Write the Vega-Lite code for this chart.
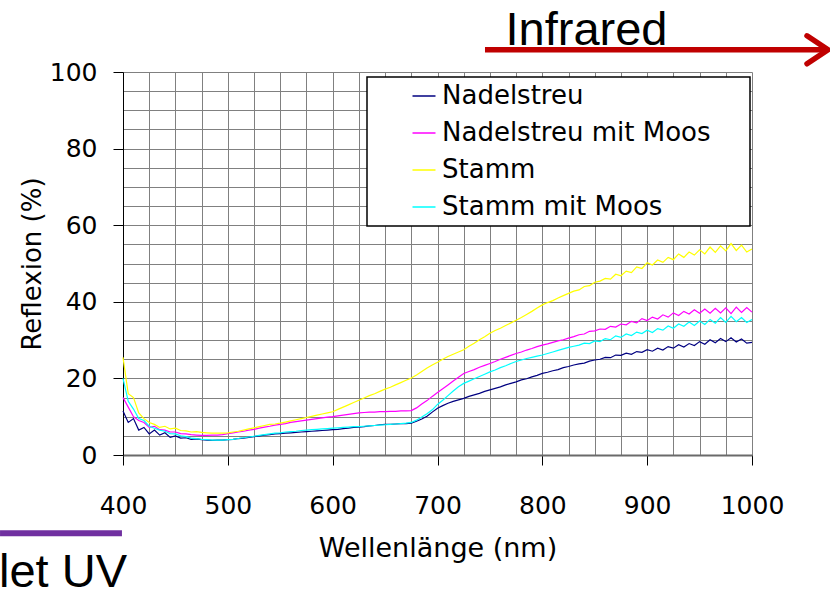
{
  "$schema": "https://vega.github.io/schema/vega-lite/v6.json",
  "width": 629,
  "height": 383,
  "autosize": {"type": "none"},
  "padding": {"left": 123, "top": 72, "right": 78, "bottom": 138},
  "background": "white",
  "config": {
    "view": {"stroke": null},
    "legend": {
      "orient": "none", "legendX": 244, "legendY": 5,
      "fillColor": "white", "strokeColor": "black", "strokeWidth": 1.5,
      "padding": 6, "symbolType": "stroke", "symbolSize": 529, "symbolStrokeWidth": 1.5,
      "symbolOffset": 38, "labelOffset": 5, "labelFont": "DejaVu Sans", "labelFontSize": 26,
      "labelColor": "black", "rowPadding": 11, "labelLimit": 500,
      "titleOrient": "right", "titlePadding": 33, "titleFontSize": 26, "titleFont": "DejaVu Sans"
    }
  },
  "datasets": {
    "spectra": [
      {"w":400,"s":"Nadelstreu","r":11.5},{"w":405,"s":"Nadelstreu","r":8.5},{"w":410,"s":"Nadelstreu","r":9.5},{"w":415,"s":"Nadelstreu","r":6.5},{"w":420,"s":"Nadelstreu","r":7.2},{"w":425,"s":"Nadelstreu","r":5.5},{"w":430,"s":"Nadelstreu","r":6.5},{"w":435,"s":"Nadelstreu","r":5.2},{"w":440,"s":"Nadelstreu","r":5.8},{"w":445,"s":"Nadelstreu","r":4.6},{"w":450,"s":"Nadelstreu","r":5.0},{"w":455,"s":"Nadelstreu","r":4.4},{"w":460,"s":"Nadelstreu","r":4.5},{"w":465,"s":"Nadelstreu","r":4.1},{"w":470,"s":"Nadelstreu","r":4.2},{"w":475,"s":"Nadelstreu","r":4.0},{"w":480,"s":"Nadelstreu","r":3.9},{"w":485,"s":"Nadelstreu","r":3.8},{"w":490,"s":"Nadelstreu","r":3.9},{"w":495,"s":"Nadelstreu","r":3.9},{"w":500,"s":"Nadelstreu","r":4.0},{"w":505,"s":"Nadelstreu","r":4.1},{"w":510,"s":"Nadelstreu","r":4.3},{"w":515,"s":"Nadelstreu","r":4.4},{"w":520,"s":"Nadelstreu","r":4.6},{"w":525,"s":"Nadelstreu","r":4.8},{"w":530,"s":"Nadelstreu","r":5.0},{"w":535,"s":"Nadelstreu","r":5.2},{"w":540,"s":"Nadelstreu","r":5.3},{"w":545,"s":"Nadelstreu","r":5.5},{"w":550,"s":"Nadelstreu","r":5.6},{"w":555,"s":"Nadelstreu","r":5.7},{"w":560,"s":"Nadelstreu","r":5.8},{"w":565,"s":"Nadelstreu","r":5.9},{"w":570,"s":"Nadelstreu","r":6.0},{"w":575,"s":"Nadelstreu","r":6.1},{"w":580,"s":"Nadelstreu","r":6.2},{"w":585,"s":"Nadelstreu","r":6.3},{"w":590,"s":"Nadelstreu","r":6.4},{"w":595,"s":"Nadelstreu","r":6.5},{"w":600,"s":"Nadelstreu","r":6.6},{"w":605,"s":"Nadelstreu","r":6.7},{"w":610,"s":"Nadelstreu","r":6.9},{"w":615,"s":"Nadelstreu","r":7.0},{"w":620,"s":"Nadelstreu","r":7.2},{"w":625,"s":"Nadelstreu","r":7.3},{"w":630,"s":"Nadelstreu","r":7.4},{"w":635,"s":"Nadelstreu","r":7.6},{"w":640,"s":"Nadelstreu","r":7.7},{"w":645,"s":"Nadelstreu","r":7.9},{"w":650,"s":"Nadelstreu","r":8.0},{"w":655,"s":"Nadelstreu","r":8.0},{"w":660,"s":"Nadelstreu","r":8.1},{"w":665,"s":"Nadelstreu","r":8.2},{"w":670,"s":"Nadelstreu","r":8.2},{"w":675,"s":"Nadelstreu","r":8.3},{"w":680,"s":"Nadelstreu","r":8.8},{"w":685,"s":"Nadelstreu","r":9.4},{"w":690,"s":"Nadelstreu","r":10.1},{"w":695,"s":"Nadelstreu","r":11.2},{"w":700,"s":"Nadelstreu","r":12.2},{"w":705,"s":"Nadelstreu","r":12.9},{"w":710,"s":"Nadelstreu","r":13.5},{"w":715,"s":"Nadelstreu","r":14.0},{"w":720,"s":"Nadelstreu","r":14.4},{"w":725,"s":"Nadelstreu","r":14.8},{"w":730,"s":"Nadelstreu","r":15.3},{"w":735,"s":"Nadelstreu","r":15.7},{"w":740,"s":"Nadelstreu","r":16.1},{"w":745,"s":"Nadelstreu","r":16.6},{"w":750,"s":"Nadelstreu","r":17.0},{"w":755,"s":"Nadelstreu","r":17.4},{"w":760,"s":"Nadelstreu","r":17.8},{"w":765,"s":"Nadelstreu","r":18.3},{"w":770,"s":"Nadelstreu","r":18.7},{"w":775,"s":"Nadelstreu","r":19.1},{"w":780,"s":"Nadelstreu","r":19.6},{"w":785,"s":"Nadelstreu","r":19.9},{"w":790,"s":"Nadelstreu","r":20.4},{"w":795,"s":"Nadelstreu","r":20.8},{"w":800,"s":"Nadelstreu","r":21.3},{"w":805,"s":"Nadelstreu","r":21.6},{"w":810,"s":"Nadelstreu","r":22.0},{"w":815,"s":"Nadelstreu","r":22.3},{"w":820,"s":"Nadelstreu","r":22.8},{"w":825,"s":"Nadelstreu","r":23.1},{"w":830,"s":"Nadelstreu","r":23.5},{"w":835,"s":"Nadelstreu","r":23.8},{"w":840,"s":"Nadelstreu","r":24.0},{"w":845,"s":"Nadelstreu","r":24.5},{"w":850,"s":"Nadelstreu","r":24.8},{"w":855,"s":"Nadelstreu","r":25.0},{"w":860,"s":"Nadelstreu","r":25.5},{"w":865,"s":"Nadelstreu","r":25.4},{"w":870,"s":"Nadelstreu","r":26.1},{"w":875,"s":"Nadelstreu","r":26.0},{"w":880,"s":"Nadelstreu","r":26.6},{"w":885,"s":"Nadelstreu","r":26.3},{"w":890,"s":"Nadelstreu","r":27.0},{"w":895,"s":"Nadelstreu","r":26.8},{"w":900,"s":"Nadelstreu","r":27.5},{"w":905,"s":"Nadelstreu","r":27.1},{"w":910,"s":"Nadelstreu","r":27.9},{"w":915,"s":"Nadelstreu","r":27.4},{"w":920,"s":"Nadelstreu","r":28.3},{"w":925,"s":"Nadelstreu","r":27.9},{"w":930,"s":"Nadelstreu","r":28.8},{"w":935,"s":"Nadelstreu","r":28.2},{"w":940,"s":"Nadelstreu","r":29.1},{"w":945,"s":"Nadelstreu","r":28.6},{"w":950,"s":"Nadelstreu","r":29.6},{"w":955,"s":"Nadelstreu","r":28.9},{"w":960,"s":"Nadelstreu","r":30.1},{"w":965,"s":"Nadelstreu","r":29.3},{"w":970,"s":"Nadelstreu","r":30.4},{"w":975,"s":"Nadelstreu","r":29.6},{"w":980,"s":"Nadelstreu","r":30.6},{"w":985,"s":"Nadelstreu","r":29.5},{"w":990,"s":"Nadelstreu","r":30.3},{"w":995,"s":"Nadelstreu","r":29.2},{"w":1000,"s":"Nadelstreu","r":29.4},

      {"w":400,"s":"Nadelstreu mit Moos","r":15.0},{"w":405,"s":"Nadelstreu mit Moos","r":12.5},{"w":410,"s":"Nadelstreu mit Moos","r":10.0},{"w":415,"s":"Nadelstreu mit Moos","r":9.0},{"w":420,"s":"Nadelstreu mit Moos","r":8.5},{"w":425,"s":"Nadelstreu mit Moos","r":7.2},{"w":430,"s":"Nadelstreu mit Moos","r":7.5},{"w":435,"s":"Nadelstreu mit Moos","r":6.6},{"w":440,"s":"Nadelstreu mit Moos","r":6.5},{"w":445,"s":"Nadelstreu mit Moos","r":6.0},{"w":450,"s":"Nadelstreu mit Moos","r":6.0},{"w":455,"s":"Nadelstreu mit Moos","r":5.6},{"w":460,"s":"Nadelstreu mit Moos","r":5.5},{"w":465,"s":"Nadelstreu mit Moos","r":5.3},{"w":470,"s":"Nadelstreu mit Moos","r":5.2},{"w":475,"s":"Nadelstreu mit Moos","r":5.1},{"w":480,"s":"Nadelstreu mit Moos","r":5.1},{"w":485,"s":"Nadelstreu mit Moos","r":5.2},{"w":490,"s":"Nadelstreu mit Moos","r":5.2},{"w":495,"s":"Nadelstreu mit Moos","r":5.3},{"w":500,"s":"Nadelstreu mit Moos","r":5.6},{"w":505,"s":"Nadelstreu mit Moos","r":5.8},{"w":510,"s":"Nadelstreu mit Moos","r":6.0},{"w":515,"s":"Nadelstreu mit Moos","r":6.2},{"w":520,"s":"Nadelstreu mit Moos","r":6.5},{"w":525,"s":"Nadelstreu mit Moos","r":6.7},{"w":530,"s":"Nadelstreu mit Moos","r":7.0},{"w":535,"s":"Nadelstreu mit Moos","r":7.3},{"w":540,"s":"Nadelstreu mit Moos","r":7.5},{"w":545,"s":"Nadelstreu mit Moos","r":7.8},{"w":550,"s":"Nadelstreu mit Moos","r":8.0},{"w":555,"s":"Nadelstreu mit Moos","r":8.2},{"w":560,"s":"Nadelstreu mit Moos","r":8.5},{"w":565,"s":"Nadelstreu mit Moos","r":8.7},{"w":570,"s":"Nadelstreu mit Moos","r":8.9},{"w":575,"s":"Nadelstreu mit Moos","r":9.1},{"w":580,"s":"Nadelstreu mit Moos","r":9.3},{"w":585,"s":"Nadelstreu mit Moos","r":9.5},{"w":590,"s":"Nadelstreu mit Moos","r":9.7},{"w":595,"s":"Nadelstreu mit Moos","r":9.9},{"w":600,"s":"Nadelstreu mit Moos","r":10.0},{"w":605,"s":"Nadelstreu mit Moos","r":10.2},{"w":610,"s":"Nadelstreu mit Moos","r":10.4},{"w":615,"s":"Nadelstreu mit Moos","r":10.6},{"w":620,"s":"Nadelstreu mit Moos","r":10.8},{"w":625,"s":"Nadelstreu mit Moos","r":11.0},{"w":630,"s":"Nadelstreu mit Moos","r":11.1},{"w":635,"s":"Nadelstreu mit Moos","r":11.2},{"w":640,"s":"Nadelstreu mit Moos","r":11.2},{"w":645,"s":"Nadelstreu mit Moos","r":11.3},{"w":650,"s":"Nadelstreu mit Moos","r":11.3},{"w":655,"s":"Nadelstreu mit Moos","r":11.4},{"w":660,"s":"Nadelstreu mit Moos","r":11.4},{"w":665,"s":"Nadelstreu mit Moos","r":11.5},{"w":670,"s":"Nadelstreu mit Moos","r":11.5},{"w":675,"s":"Nadelstreu mit Moos","r":11.6},{"w":680,"s":"Nadelstreu mit Moos","r":12.3},{"w":685,"s":"Nadelstreu mit Moos","r":13.3},{"w":690,"s":"Nadelstreu mit Moos","r":14.2},{"w":695,"s":"Nadelstreu mit Moos","r":15.3},{"w":700,"s":"Nadelstreu mit Moos","r":16.3},{"w":705,"s":"Nadelstreu mit Moos","r":17.3},{"w":710,"s":"Nadelstreu mit Moos","r":18.3},{"w":715,"s":"Nadelstreu mit Moos","r":19.3},{"w":720,"s":"Nadelstreu mit Moos","r":20.3},{"w":725,"s":"Nadelstreu mit Moos","r":21.3},{"w":730,"s":"Nadelstreu mit Moos","r":21.8},{"w":735,"s":"Nadelstreu mit Moos","r":22.3},{"w":740,"s":"Nadelstreu mit Moos","r":22.9},{"w":745,"s":"Nadelstreu mit Moos","r":23.4},{"w":750,"s":"Nadelstreu mit Moos","r":23.9},{"w":755,"s":"Nadelstreu mit Moos","r":24.4},{"w":760,"s":"Nadelstreu mit Moos","r":25.0},{"w":765,"s":"Nadelstreu mit Moos","r":25.5},{"w":770,"s":"Nadelstreu mit Moos","r":26.0},{"w":775,"s":"Nadelstreu mit Moos","r":26.5},{"w":780,"s":"Nadelstreu mit Moos","r":26.9},{"w":785,"s":"Nadelstreu mit Moos","r":27.4},{"w":790,"s":"Nadelstreu mit Moos","r":27.8},{"w":795,"s":"Nadelstreu mit Moos","r":28.3},{"w":800,"s":"Nadelstreu mit Moos","r":28.7},{"w":805,"s":"Nadelstreu mit Moos","r":29.0},{"w":810,"s":"Nadelstreu mit Moos","r":29.4},{"w":815,"s":"Nadelstreu mit Moos","r":29.8},{"w":820,"s":"Nadelstreu mit Moos","r":30.1},{"w":825,"s":"Nadelstreu mit Moos","r":30.5},{"w":830,"s":"Nadelstreu mit Moos","r":30.9},{"w":835,"s":"Nadelstreu mit Moos","r":31.4},{"w":840,"s":"Nadelstreu mit Moos","r":31.6},{"w":845,"s":"Nadelstreu mit Moos","r":32.3},{"w":850,"s":"Nadelstreu mit Moos","r":32.4},{"w":855,"s":"Nadelstreu mit Moos","r":32.9},{"w":860,"s":"Nadelstreu mit Moos","r":32.8},{"w":865,"s":"Nadelstreu mit Moos","r":33.6},{"w":870,"s":"Nadelstreu mit Moos","r":33.4},{"w":875,"s":"Nadelstreu mit Moos","r":34.2},{"w":880,"s":"Nadelstreu mit Moos","r":34.0},{"w":885,"s":"Nadelstreu mit Moos","r":34.9},{"w":890,"s":"Nadelstreu mit Moos","r":34.5},{"w":895,"s":"Nadelstreu mit Moos","r":35.6},{"w":900,"s":"Nadelstreu mit Moos","r":35.1},{"w":905,"s":"Nadelstreu mit Moos","r":36.0},{"w":910,"s":"Nadelstreu mit Moos","r":35.5},{"w":915,"s":"Nadelstreu mit Moos","r":36.6},{"w":920,"s":"Nadelstreu mit Moos","r":36.0},{"w":925,"s":"Nadelstreu mit Moos","r":37.1},{"w":930,"s":"Nadelstreu mit Moos","r":36.4},{"w":935,"s":"Nadelstreu mit Moos","r":37.5},{"w":940,"s":"Nadelstreu mit Moos","r":36.8},{"w":945,"s":"Nadelstreu mit Moos","r":37.9},{"w":950,"s":"Nadelstreu mit Moos","r":37.0},{"w":955,"s":"Nadelstreu mit Moos","r":38.1},{"w":960,"s":"Nadelstreu mit Moos","r":37.0},{"w":965,"s":"Nadelstreu mit Moos","r":38.3},{"w":970,"s":"Nadelstreu mit Moos","r":37.1},{"w":975,"s":"Nadelstreu mit Moos","r":38.4},{"w":980,"s":"Nadelstreu mit Moos","r":36.9},{"w":985,"s":"Nadelstreu mit Moos","r":38.6},{"w":990,"s":"Nadelstreu mit Moos","r":37.2},{"w":995,"s":"Nadelstreu mit Moos","r":38.5},{"w":1000,"s":"Nadelstreu mit Moos","r":37.3},

      {"w":400,"s":"Stamm","r":25.5},{"w":405,"s":"Stamm","r":16.0},{"w":410,"s":"Stamm","r":15.0},{"w":415,"s":"Stamm","r":11.0},{"w":420,"s":"Stamm","r":9.5},{"w":425,"s":"Stamm","r":8.5},{"w":430,"s":"Stamm","r":8.0},{"w":435,"s":"Stamm","r":7.2},{"w":440,"s":"Stamm","r":7.5},{"w":445,"s":"Stamm","r":6.8},{"w":450,"s":"Stamm","r":7.0},{"w":455,"s":"Stamm","r":6.4},{"w":460,"s":"Stamm","r":6.3},{"w":465,"s":"Stamm","r":6.0},{"w":470,"s":"Stamm","r":6.1},{"w":475,"s":"Stamm","r":5.9},{"w":480,"s":"Stamm","r":5.8},{"w":485,"s":"Stamm","r":5.7},{"w":490,"s":"Stamm","r":5.7},{"w":495,"s":"Stamm","r":5.7},{"w":500,"s":"Stamm","r":5.8},{"w":505,"s":"Stamm","r":6.0},{"w":510,"s":"Stamm","r":6.2},{"w":515,"s":"Stamm","r":6.5},{"w":520,"s":"Stamm","r":6.8},{"w":525,"s":"Stamm","r":7.1},{"w":530,"s":"Stamm","r":7.4},{"w":535,"s":"Stamm","r":7.7},{"w":540,"s":"Stamm","r":8.0},{"w":545,"s":"Stamm","r":8.1},{"w":550,"s":"Stamm","r":8.3},{"w":555,"s":"Stamm","r":8.6},{"w":560,"s":"Stamm","r":8.9},{"w":565,"s":"Stamm","r":9.2},{"w":570,"s":"Stamm","r":9.5},{"w":575,"s":"Stamm","r":9.8},{"w":580,"s":"Stamm","r":10.1},{"w":585,"s":"Stamm","r":10.4},{"w":590,"s":"Stamm","r":10.7},{"w":595,"s":"Stamm","r":11.0},{"w":600,"s":"Stamm","r":11.3},{"w":605,"s":"Stamm","r":11.9},{"w":610,"s":"Stamm","r":12.5},{"w":615,"s":"Stamm","r":13.1},{"w":620,"s":"Stamm","r":13.7},{"w":625,"s":"Stamm","r":14.3},{"w":630,"s":"Stamm","r":14.9},{"w":635,"s":"Stamm","r":15.5},{"w":640,"s":"Stamm","r":16.0},{"w":645,"s":"Stamm","r":16.6},{"w":650,"s":"Stamm","r":17.2},{"w":655,"s":"Stamm","r":17.7},{"w":660,"s":"Stamm","r":18.3},{"w":665,"s":"Stamm","r":18.9},{"w":670,"s":"Stamm","r":19.5},{"w":675,"s":"Stamm","r":20.1},{"w":680,"s":"Stamm","r":20.9},{"w":685,"s":"Stamm","r":21.8},{"w":690,"s":"Stamm","r":22.7},{"w":695,"s":"Stamm","r":23.5},{"w":700,"s":"Stamm","r":24.2},{"w":705,"s":"Stamm","r":25.0},{"w":710,"s":"Stamm","r":25.7},{"w":715,"s":"Stamm","r":26.3},{"w":720,"s":"Stamm","r":26.9},{"w":725,"s":"Stamm","r":27.5},{"w":730,"s":"Stamm","r":28.4},{"w":735,"s":"Stamm","r":29.2},{"w":740,"s":"Stamm","r":30.1},{"w":745,"s":"Stamm","r":30.9},{"w":750,"s":"Stamm","r":31.8},{"w":755,"s":"Stamm","r":32.5},{"w":760,"s":"Stamm","r":33.1},{"w":765,"s":"Stamm","r":33.8},{"w":770,"s":"Stamm","r":34.5},{"w":775,"s":"Stamm","r":35.2},{"w":780,"s":"Stamm","r":35.9},{"w":785,"s":"Stamm","r":36.7},{"w":790,"s":"Stamm","r":37.5},{"w":795,"s":"Stamm","r":38.4},{"w":800,"s":"Stamm","r":39.2},{"w":805,"s":"Stamm","r":39.8},{"w":810,"s":"Stamm","r":40.3},{"w":815,"s":"Stamm","r":41.0},{"w":820,"s":"Stamm","r":41.6},{"w":825,"s":"Stamm","r":42.2},{"w":830,"s":"Stamm","r":42.8},{"w":835,"s":"Stamm","r":43.1},{"w":840,"s":"Stamm","r":44.0},{"w":845,"s":"Stamm","r":44.2},{"w":850,"s":"Stamm","r":45.1},{"w":855,"s":"Stamm","r":45.4},{"w":860,"s":"Stamm","r":46.1},{"w":865,"s":"Stamm","r":45.9},{"w":870,"s":"Stamm","r":47.2},{"w":875,"s":"Stamm","r":46.8},{"w":880,"s":"Stamm","r":48.0},{"w":885,"s":"Stamm","r":47.6},{"w":890,"s":"Stamm","r":49.1},{"w":895,"s":"Stamm","r":48.7},{"w":900,"s":"Stamm","r":50.2},{"w":905,"s":"Stamm","r":49.6},{"w":910,"s":"Stamm","r":50.9},{"w":915,"s":"Stamm","r":50.3},{"w":920,"s":"Stamm","r":51.6},{"w":925,"s":"Stamm","r":51.0},{"w":930,"s":"Stamm","r":52.5},{"w":935,"s":"Stamm","r":51.6},{"w":940,"s":"Stamm","r":53.0},{"w":945,"s":"Stamm","r":52.2},{"w":950,"s":"Stamm","r":53.6},{"w":955,"s":"Stamm","r":52.5},{"w":960,"s":"Stamm","r":54.3},{"w":965,"s":"Stamm","r":52.9},{"w":970,"s":"Stamm","r":54.6},{"w":975,"s":"Stamm","r":53.3},{"w":980,"s":"Stamm","r":55.2},{"w":985,"s":"Stamm","r":53.4},{"w":990,"s":"Stamm","r":54.8},{"w":995,"s":"Stamm","r":53.0},{"w":1000,"s":"Stamm","r":53.8},

      {"w":400,"s":"Stamm mit Moos","r":20.0},{"w":405,"s":"Stamm mit Moos","r":14.0},{"w":410,"s":"Stamm mit Moos","r":12.0},{"w":415,"s":"Stamm mit Moos","r":9.5},{"w":420,"s":"Stamm mit Moos","r":9.0},{"w":425,"s":"Stamm mit Moos","r":7.5},{"w":430,"s":"Stamm mit Moos","r":7.0},{"w":435,"s":"Stamm mit Moos","r":6.5},{"w":440,"s":"Stamm mit Moos","r":6.2},{"w":445,"s":"Stamm mit Moos","r":5.6},{"w":450,"s":"Stamm mit Moos","r":5.5},{"w":455,"s":"Stamm mit Moos","r":5.0},{"w":460,"s":"Stamm mit Moos","r":4.8},{"w":465,"s":"Stamm mit Moos","r":4.4},{"w":470,"s":"Stamm mit Moos","r":4.3},{"w":475,"s":"Stamm mit Moos","r":4.1},{"w":480,"s":"Stamm mit Moos","r":4.0},{"w":485,"s":"Stamm mit Moos","r":3.9},{"w":490,"s":"Stamm mit Moos","r":3.9},{"w":495,"s":"Stamm mit Moos","r":3.9},{"w":500,"s":"Stamm mit Moos","r":4.0},{"w":505,"s":"Stamm mit Moos","r":4.1},{"w":510,"s":"Stamm mit Moos","r":4.3},{"w":515,"s":"Stamm mit Moos","r":4.5},{"w":520,"s":"Stamm mit Moos","r":4.7},{"w":525,"s":"Stamm mit Moos","r":4.9},{"w":530,"s":"Stamm mit Moos","r":5.1},{"w":535,"s":"Stamm mit Moos","r":5.3},{"w":540,"s":"Stamm mit Moos","r":5.5},{"w":545,"s":"Stamm mit Moos","r":5.7},{"w":550,"s":"Stamm mit Moos","r":5.8},{"w":555,"s":"Stamm mit Moos","r":6.0},{"w":560,"s":"Stamm mit Moos","r":6.1},{"w":565,"s":"Stamm mit Moos","r":6.2},{"w":570,"s":"Stamm mit Moos","r":6.4},{"w":575,"s":"Stamm mit Moos","r":6.5},{"w":580,"s":"Stamm mit Moos","r":6.6},{"w":585,"s":"Stamm mit Moos","r":6.7},{"w":590,"s":"Stamm mit Moos","r":6.8},{"w":595,"s":"Stamm mit Moos","r":6.9},{"w":600,"s":"Stamm mit Moos","r":7.0},{"w":605,"s":"Stamm mit Moos","r":7.1},{"w":610,"s":"Stamm mit Moos","r":7.2},{"w":615,"s":"Stamm mit Moos","r":7.3},{"w":620,"s":"Stamm mit Moos","r":7.4},{"w":625,"s":"Stamm mit Moos","r":7.4},{"w":630,"s":"Stamm mit Moos","r":7.5},{"w":635,"s":"Stamm mit Moos","r":7.6},{"w":640,"s":"Stamm mit Moos","r":7.7},{"w":645,"s":"Stamm mit Moos","r":7.8},{"w":650,"s":"Stamm mit Moos","r":7.9},{"w":655,"s":"Stamm mit Moos","r":8.0},{"w":660,"s":"Stamm mit Moos","r":8.1},{"w":665,"s":"Stamm mit Moos","r":8.2},{"w":670,"s":"Stamm mit Moos","r":8.3},{"w":675,"s":"Stamm mit Moos","r":8.5},{"w":680,"s":"Stamm mit Moos","r":9.1},{"w":685,"s":"Stamm mit Moos","r":9.9},{"w":690,"s":"Stamm mit Moos","r":10.8},{"w":695,"s":"Stamm mit Moos","r":11.8},{"w":700,"s":"Stamm mit Moos","r":13.2},{"w":705,"s":"Stamm mit Moos","r":14.3},{"w":710,"s":"Stamm mit Moos","r":15.5},{"w":715,"s":"Stamm mit Moos","r":16.7},{"w":720,"s":"Stamm mit Moos","r":17.8},{"w":725,"s":"Stamm mit Moos","r":18.7},{"w":730,"s":"Stamm mit Moos","r":19.3},{"w":735,"s":"Stamm mit Moos","r":19.9},{"w":740,"s":"Stamm mit Moos","r":20.5},{"w":745,"s":"Stamm mit Moos","r":21.1},{"w":750,"s":"Stamm mit Moos","r":21.7},{"w":755,"s":"Stamm mit Moos","r":22.2},{"w":760,"s":"Stamm mit Moos","r":22.8},{"w":765,"s":"Stamm mit Moos","r":23.3},{"w":770,"s":"Stamm mit Moos","r":23.9},{"w":775,"s":"Stamm mit Moos","r":24.4},{"w":780,"s":"Stamm mit Moos","r":24.8},{"w":785,"s":"Stamm mit Moos","r":25.2},{"w":790,"s":"Stamm mit Moos","r":25.5},{"w":795,"s":"Stamm mit Moos","r":25.8},{"w":800,"s":"Stamm mit Moos","r":26.1},{"w":805,"s":"Stamm mit Moos","r":26.5},{"w":810,"s":"Stamm mit Moos","r":26.9},{"w":815,"s":"Stamm mit Moos","r":27.3},{"w":820,"s":"Stamm mit Moos","r":27.7},{"w":825,"s":"Stamm mit Moos","r":28.1},{"w":830,"s":"Stamm mit Moos","r":28.4},{"w":835,"s":"Stamm mit Moos","r":28.7},{"w":840,"s":"Stamm mit Moos","r":29.2},{"w":845,"s":"Stamm mit Moos","r":29.1},{"w":850,"s":"Stamm mit Moos","r":29.8},{"w":855,"s":"Stamm mit Moos","r":29.6},{"w":860,"s":"Stamm mit Moos","r":30.4},{"w":865,"s":"Stamm mit Moos","r":30.1},{"w":870,"s":"Stamm mit Moos","r":31.1},{"w":875,"s":"Stamm mit Moos","r":30.7},{"w":880,"s":"Stamm mit Moos","r":31.6},{"w":885,"s":"Stamm mit Moos","r":31.2},{"w":890,"s":"Stamm mit Moos","r":32.1},{"w":895,"s":"Stamm mit Moos","r":31.7},{"w":900,"s":"Stamm mit Moos","r":32.6},{"w":905,"s":"Stamm mit Moos","r":32.0},{"w":910,"s":"Stamm mit Moos","r":33.0},{"w":915,"s":"Stamm mit Moos","r":32.6},{"w":920,"s":"Stamm mit Moos","r":33.7},{"w":925,"s":"Stamm mit Moos","r":33.1},{"w":930,"s":"Stamm mit Moos","r":34.2},{"w":935,"s":"Stamm mit Moos","r":33.6},{"w":940,"s":"Stamm mit Moos","r":34.7},{"w":945,"s":"Stamm mit Moos","r":33.8},{"w":950,"s":"Stamm mit Moos","r":35.0},{"w":955,"s":"Stamm mit Moos","r":34.1},{"w":960,"s":"Stamm mit Moos","r":35.4},{"w":965,"s":"Stamm mit Moos","r":34.4},{"w":970,"s":"Stamm mit Moos","r":35.9},{"w":975,"s":"Stamm mit Moos","r":34.6},{"w":980,"s":"Stamm mit Moos","r":36.2},{"w":985,"s":"Stamm mit Moos","r":34.8},{"w":990,"s":"Stamm mit Moos","r":35.9},{"w":995,"s":"Stamm mit Moos","r":34.6},{"w":1000,"s":"Stamm mit Moos","r":35.4}
    ],
    "ir": [{"from": 745.3, "to": 1070.6, "tip": 1072.5, "level": 105.8, "label": "Infrared", "mid": 842.1, "base": 107.05}],
    "uv": [{"from": 282.7, "to": 399.0, "level": -20.4, "label": "Violet UV", "end": 403.8, "base": -34.46}]
  },
  "layer": [
    {
      "data": {"name": "spectra"},
      "mark": {"type": "line", "strokeWidth": 1.2, "interpolate": "linear"},
      "encoding": {
        "x": {
          "field": "w", "type": "quantitative",
          "scale": {"domain": [400, 1000], "nice": false, "zero": false},
          "axis": {
            "title": "Wellenlänge (nm)",
            "values": [400,425,450,475,500,525,550,575,600,625,650,675,700,725,750,775,800,825,850,875,900,925,950,975,1000],
            "tickCount": 100,
            "format": "d",
            "labelExpr": "datum.value % 100 === 0 ? datum.label : ''",
            "labelOverlap": false, "labelFlush": false,
            "grid": true, "gridColor": "#808080", "gridWidth": 1, "gridOpacity": 1,
            "domain": true, "domainColor": "#6a6a6a", "domainWidth": 2,
            "ticks": true, "tickColor": "black", "tickSize": 10, "tickWidth": 1,
            "tickOpacity": {"condition": {"test": "datum.value % 100 === 0", "value": 1}, "value": 0},
            "labelFont": "DejaVu Sans", "labelFontSize": 25, "labelColor": "black", "labelPadding": 28,
            "titleFont": "DejaVu Sans", "titleFontSize": 27, "titleFontWeight": "normal", "titleColor": "black", "titlePadding": 17
          }
        },
        "y": {
          "field": "r", "type": "quantitative",
          "scale": {"domain": [0, 100], "nice": false},
          "axis": {
            "title": "Reflexion (%)",
            "values": [0,5,10,15,20,25,30,35,40,45,50,55,60,65,70,75,80,85,90,95,100],
            "tickCount": 100,
            "labelExpr": "datum.value % 20 === 0 ? datum.label : ''",
            "labelOverlap": false, "labelFlush": false,
            "grid": true, "gridColor": "#808080", "gridWidth": 1, "gridOpacity": 1,
            "domain": true, "domainColor": "black", "domainWidth": 1,
            "ticks": true, "tickColor": "black", "tickSize": 10, "tickWidth": 1,
            "tickOpacity": {"condition": {"test": "datum.value % 20 === 0", "value": 1}, "value": 0},
            "labelFont": "DejaVu Sans", "labelFontSize": 25, "labelColor": "black", "labelPadding": 16,
            "titleFont": "DejaVu Sans", "titleFontSize": 26, "titleFontWeight": "normal", "titleColor": "black", "titlePadding": 4
          }
        },
        "color": {
          "field": "s", "type": "nominal",
          "scale": {"domain": ["Nadelstreu", "Nadelstreu mit Moos", "Stamm", "Stamm mit Moos"], "range": ["#000080", "#FF00FF", "#FFFF00", "#00FFFF"]},
          "legend": {"title": "\u00a0"}
        }
      }
    },
    {
      "data": {"name": "ir"},
      "mark": {"type": "rule", "color": "#C00000", "strokeWidth": 5.5, "strokeCap": "butt"},
      "encoding": {
        "x": {"field": "from", "type": "quantitative", "title": "Wellenlänge (nm)"},
        "x2": {"field": "to"},
        "y": {"field": "level", "type": "quantitative", "title": "Reflexion (%)"}
      }
    },
    {
      "data": {"name": "ir"},
      "mark": {"type": "point", "shape": "M-1.5,-1L0,0L-1.5,1", "size": 784, "filled": false, "stroke": "#C00000", "strokeWidth": 5.5, "strokeCap": "round", "strokeJoin": "miter", "opacity": 1},
      "encoding": {
        "x": {"field": "tip", "type": "quantitative", "title": "Wellenlänge (nm)"},
        "y": {"field": "level", "type": "quantitative", "title": "Reflexion (%)"}
      }
    },
    {
      "data": {"name": "ir"},
      "mark": {"type": "text", "font": "Liberation Sans", "fontSize": 47, "color": "black", "align": "center", "baseline": "alphabetic"},
      "encoding": {
        "x": {"field": "mid", "type": "quantitative", "title": "Wellenlänge (nm)"},
        "y": {"field": "base", "type": "quantitative", "title": "Reflexion (%)"},
        "text": {"field": "label"}
      }
    },
    {
      "data": {"name": "uv"},
      "mark": {"type": "rule", "color": "#7030A0", "strokeWidth": 6, "strokeCap": "butt"},
      "encoding": {
        "x": {"field": "from", "type": "quantitative", "title": "Wellenlänge (nm)"},
        "x2": {"field": "to"},
        "y": {"field": "level", "type": "quantitative", "title": "Reflexion (%)"}
      }
    },
    {
      "data": {"name": "uv"},
      "mark": {"type": "text", "font": "Liberation Sans", "fontSize": 47, "color": "black", "align": "right", "baseline": "alphabetic"},
      "encoding": {
        "x": {"field": "end", "type": "quantitative", "title": "Wellenlänge (nm)"},
        "y": {"field": "base", "type": "quantitative", "title": "Reflexion (%)"},
        "text": {"field": "label"}
      }
    }
  ]
}
